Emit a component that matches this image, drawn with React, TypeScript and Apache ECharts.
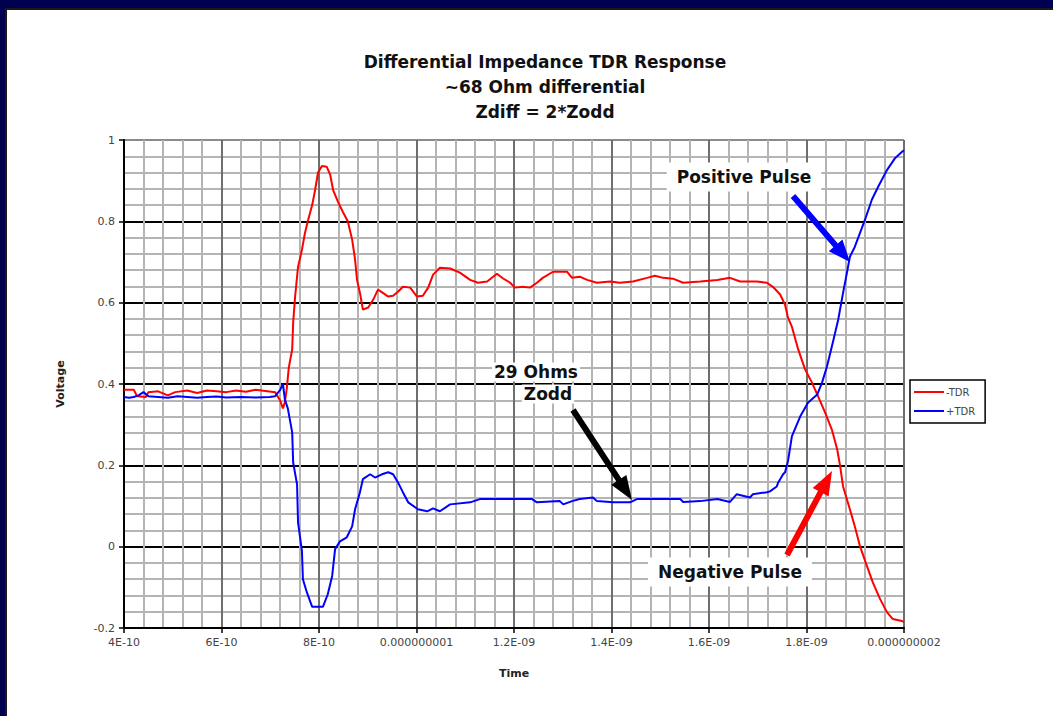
import React, { useEffect, useRef } from "react";
import * as echarts from "echarts";

// time in units of 1E-10 s
const xTickLabels = ["4E-10", "6E-10", "8E-10", "0.000000001", "1.2E-09", "1.4E-09", "1.6E-09", "1.8E-09", "0.000000002"];

const redTime = [4.0, 4.2, 4.27, 4.45, 4.5, 4.7, 4.9, 5.05, 5.3, 5.5, 5.7, 5.9, 6.1, 6.3, 6.5, 6.7, 6.9, 7.1, 7.2, 7.26, 7.3, 7.34, 7.38, 7.45, 7.47, 7.51, 7.57, 7.65, 7.71, 7.77, 7.86, 7.92, 7.98, 8.06, 8.16, 8.23, 8.29, 8.39, 8.49, 8.59, 8.68, 8.74, 8.78, 8.84, 8.9, 9.01, 9.11, 9.21, 9.31, 9.42, 9.52, 9.62, 9.72, 9.87, 10.01, 10.13, 10.24, 10.34, 10.48, 10.69, 10.89, 11.1, 11.26, 11.45, 11.65, 11.77, 11.92, 12.02, 12.18, 12.33, 12.47, 12.59, 12.8, 13.09, 13.19, 13.35, 13.5, 13.7, 13.97, 14.17, 14.44, 14.73, 14.89, 15.06, 15.26, 15.47, 15.82, 16.17, 16.43, 16.64, 16.98, 17.19, 17.31, 17.46, 17.56, 17.62, 17.7, 17.83, 17.97, 18.11, 18.24, 18.38, 18.52, 18.63, 18.69, 18.75, 18.89, 18.99, 19.1, 19.24, 19.36, 19.51, 19.65, 19.77, 19.96, 20.0];
const redVolt = [0.386, 0.386, 0.37, 0.368, 0.38, 0.382, 0.372, 0.38, 0.384, 0.378, 0.384, 0.382, 0.38, 0.384, 0.381, 0.386, 0.383, 0.38, 0.36, 0.34, 0.355, 0.39, 0.44, 0.485, 0.551, 0.615, 0.688, 0.73, 0.77, 0.8, 0.84, 0.877, 0.92, 0.936, 0.934, 0.914, 0.877, 0.848, 0.823, 0.8, 0.755, 0.706, 0.656, 0.624, 0.583, 0.588, 0.607, 0.632, 0.624, 0.615, 0.617, 0.627, 0.639, 0.637, 0.615, 0.617, 0.637, 0.669, 0.686, 0.684, 0.674, 0.656, 0.649, 0.652, 0.671, 0.66, 0.649, 0.637, 0.639, 0.637, 0.649, 0.661, 0.676, 0.676, 0.661, 0.664, 0.656, 0.649, 0.652, 0.649, 0.652, 0.661, 0.666, 0.661, 0.659, 0.649, 0.652, 0.656, 0.661, 0.652, 0.652, 0.649, 0.639, 0.62, 0.595, 0.563, 0.541, 0.485, 0.436, 0.404, 0.369, 0.33, 0.288, 0.239, 0.198, 0.148, 0.092, 0.05, 0.0, -0.048, -0.088, -0.129, -0.161, -0.178, -0.183, -0.185];

const blueTime = [4.0, 4.1, 4.2, 4.3, 4.4, 4.5, 4.7, 4.9, 5.1, 5.3, 5.5, 5.7, 5.9, 6.1, 6.4, 6.7, 6.99, 7.1, 7.2, 7.26, 7.3, 7.36, 7.45, 7.47, 7.55, 7.57, 7.65, 7.67, 7.75, 7.86, 8.08, 8.18, 8.27, 8.33, 8.43, 8.57, 8.68, 8.74, 8.84, 8.9, 9.05, 9.15, 9.29, 9.42, 9.52, 9.62, 9.72, 9.83, 10.03, 10.22, 10.34, 10.48, 10.69, 11.1, 11.3, 11.71, 12.37, 12.47, 12.94, 13.01, 13.19, 13.35, 13.62, 13.7, 14.03, 14.38, 14.52, 15.41, 15.47, 15.82, 16.17, 16.43, 16.57, 16.84, 16.9, 17.19, 17.25, 17.39, 17.42, 17.52, 17.56, 17.62, 17.7, 17.87, 18.03, 18.22, 18.32, 18.42, 18.54, 18.65, 18.75, 18.83, 18.89, 18.99, 19.1, 19.2, 19.34, 19.47, 19.65, 19.82, 19.96, 20.0];
const blueVolt = [0.368, 0.366, 0.368, 0.372, 0.38, 0.37, 0.368, 0.366, 0.37, 0.368, 0.366, 0.368, 0.369, 0.367, 0.368, 0.367, 0.368, 0.37, 0.385, 0.4, 0.362, 0.34, 0.281, 0.207, 0.153, 0.06, -0.011, -0.08, -0.112, -0.148, -0.148, -0.117, -0.072, -0.006, 0.013, 0.023, 0.05, 0.092, 0.134, 0.166, 0.178, 0.17, 0.178, 0.183, 0.178, 0.158, 0.134, 0.109, 0.092, 0.087, 0.094, 0.087, 0.104, 0.109, 0.117, 0.117, 0.117, 0.109, 0.112, 0.104, 0.112, 0.117, 0.121, 0.112, 0.109, 0.109, 0.117, 0.117, 0.11, 0.112, 0.117, 0.11, 0.129, 0.121, 0.129, 0.134, 0.136, 0.148, 0.158, 0.178, 0.183, 0.21, 0.271, 0.32, 0.354, 0.374, 0.404, 0.443, 0.502, 0.558, 0.624, 0.674, 0.713, 0.737, 0.772, 0.804, 0.853, 0.885, 0.926, 0.956, 0.971, 0.975];

const seriesNames = ["-TDR", "+TDR"];
const titleLines = ["Differential Impedance TDR Response", "~68 Ohm differential", "Zdiff = 2*Zodd"];

function arrow(x1: number, y1: number, x2: number, y2: number, sw: number, hw: number, hl: number) {
  const dx = x2 - x1, dy = y2 - y1;
  const L = Math.hypot(dx, dy);
  const ux = dx / L, uy = dy / L;
  const px = -uy, py = ux;
  const bx = x2 - ux * hl, by = y2 - uy * hl;
  return [
    [x1 + px * sw / 2, y1 + py * sw / 2],
    [bx + px * sw / 2, by + py * sw / 2],
    [bx + px * hw / 2, by + py * hw / 2],
    [x2, y2],
    [bx - px * hw / 2, by - py * hw / 2],
    [bx - px * sw / 2, by - py * sw / 2],
    [x1 - px * sw / 2, y1 - py * sw / 2],
  ];
}

export default function App() {
  const ref = useRef<HTMLDivElement>(null);
  useEffect(() => {
    const chart = echarts.init(ref.current!, null, { renderer: "svg" });
    const font = "DejaVu Sans";
    const annFont = `bold 17px "${font}"`;
    chart.setOption({
      animation: false,
      backgroundColor: "#000050",
      title: {
        text: titleLines.join("\n"),
        left: 540,
        top: 44,
        textAlign: "center",
        textStyle: { fontFamily: font, fontSize: 17, fontWeight: "bold", color: "#111", lineHeight: 25 },
      },
      legend: {
        orient: "vertical",
        left: 910,
        top: 380,
        data: seriesNames,
        icon: "rect",
        itemWidth: 30,
        itemHeight: 2,
        itemGap: 9,
        padding: [7, 10, 7, 4],
        borderColor: "#000",
        borderWidth: 1.5,
        backgroundColor: "#fff",
        textStyle: { fontFamily: font, fontSize: 10, color: "#444", padding: [0, 0, 0, -3] },
      },
      grid: { left: 124, top: 140, width: 780, height: 488, containLabel: false },
      xAxis: {
        type: "value",
        min: 4,
        max: 20,
        interval: 2,
        name: "Time",
        nameLocation: "middle",
        nameGap: 40,
        nameTextStyle: { fontFamily: font, fontSize: 11, fontWeight: "bold", color: "#222" },
        axisLine: { onZero: false, lineStyle: { color: "#000", width: 2 } },
        axisTick: { show: true, length: 5, lineStyle: { color: "#000", width: 1.5 } },
        axisLabel: {
          fontFamily: font,
          fontSize: 11,
          color: "#444",
          margin: 9,
          formatter: (v: number) => xTickLabels[Math.round((v - 4) / 2)] ?? "",
        },
        splitLine: { show: true, lineStyle: { color: "#6e6e6e", width: 2 } },
        minorTick: { show: false, splitNumber: 5 },
        minorSplitLine: { show: true, lineStyle: { color: "#b4b4b4", width: 2 } },
      },
      yAxis: {
        type: "value",
        min: -0.2,
        max: 1,
        interval: 0.2,
        name: "Voltage",
        nameLocation: "middle",
        nameGap: 58,
        nameRotate: 90,
        nameTextStyle: { fontFamily: font, fontSize: 11, fontWeight: "bold", color: "#222" },
        axisLine: { show: true, lineStyle: { color: "#000", width: 2 } },
        axisTick: { show: true, length: 5, lineStyle: { color: "#000", width: 1.5 } },
        axisLabel: { fontFamily: font, fontSize: 11, color: "#444", margin: 9 },
        splitLine: { show: true, lineStyle: { color: ["#000", "#000", "#000", "#000", "#000", "#000", "#8a8a8a"], width: 2 } },
        minorTick: { show: false, splitNumber: 5 },
        minorSplitLine: { show: true, lineStyle: { color: "#b4b4b4", width: 2 } },
      },
      series: [
        {
          name: seriesNames[0],
          type: "line",
          data: redTime.map((t, i) => [t, redVolt[i]]),
          showSymbol: false,
          lineStyle: { color: "#ff0000", width: 2 },
          itemStyle: { color: "#ff0000" },
          z: 3,
        },
        {
          name: seriesNames[1],
          type: "line",
          data: blueTime.map((t, i) => [t, blueVolt[i]]),
          showSymbol: false,
          lineStyle: { color: "#0000ff", width: 2 },
          itemStyle: { color: "#0000ff" },
          z: 4,
        },
      ],
      graphic: [
        {
          type: "rect",
          z: -10,
          silent: true,
          shape: { x: 6, y: 9, width: 1060, height: 720 },
          style: { fill: "#ffffff", stroke: "#1a1a1a", lineWidth: 2 },
        },
        {
          type: "text",
          z: 10,
          style: {
            text: "Positive Pulse", x: 744, y: 177, align: "center", verticalAlign: "middle",
            font: annFont, fill: "#111", backgroundColor: "#fff", padding: [6, 10, 6, 10],
          },
        },
        {
          type: "text",
          z: 10,
          style: {
            text: "Negative Pulse", x: 730, y: 572, align: "center", verticalAlign: "middle",
            font: annFont, fill: "#111", backgroundColor: "#fff", padding: [6, 10, 6, 10],
          },
        },
        {
          type: "text",
          z: 10,
          style: {
            text: "29 Ohms", x: 536, y: 372, align: "center", verticalAlign: "middle",
            font: annFont, fill: "#111", backgroundColor: "#fff", padding: [1, 2, 1, 2],
          },
        },
        {
          type: "text",
          z: 10,
          style: {
            text: "Zodd", x: 548, y: 394, align: "center", verticalAlign: "middle",
            font: annFont, fill: "#111", backgroundColor: "#fff", padding: [1, 2, 1, 2],
          },
        },
        {
          type: "polygon",
          z: 11,
          shape: { points: arrow(793, 196, 850, 262, 6, 18, 22) },
          style: { fill: "#0000ff" },
        },
        {
          type: "polygon",
          z: 11,
          shape: { points: arrow(573, 410, 632, 500, 6, 18, 24) },
          style: { fill: "#000" },
        },
        {
          type: "polygon",
          z: 11,
          shape: { points: arrow(787, 555, 832, 471, 6, 18, 24) },
          style: { fill: "#ff0000" },
        },
      ],
    });
    return () => chart.dispose();
  }, []);
  return <div ref={ref} style={{ position: "fixed", left: 0, top: 0, width: 1053, height: 716 }} />;
}
